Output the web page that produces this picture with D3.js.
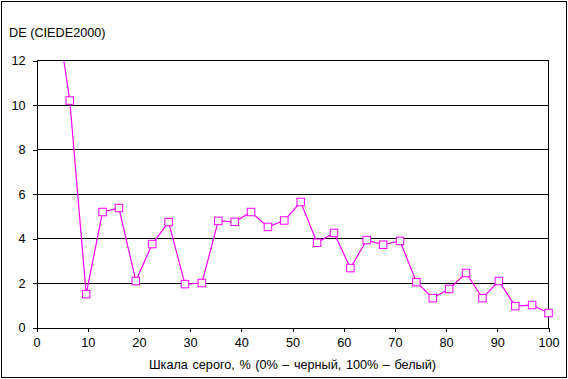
<!DOCTYPE html>
<html>
<head>
<meta charset="utf-8">
<script src="https://cdn.jsdelivr.net/npm/d3@7"></script>
<style>
  html, body { margin: 0; padding: 0; background: #fff; }
  svg text { font-family: "Liberation Sans", Arial, sans-serif; fill: #000; }
</style>
</head>
<body>
<svg id="chart" width="568" height="379"></svg>
<script>
const grayPercent = [0, 3.2, 6.5, 9.7, 12.9, 16.1, 19.4, 22.6, 25.8, 29.0, 32.3, 35.5, 38.7, 41.9, 45.2, 48.4,
  51.6, 54.8, 58.1, 61.3, 64.5, 67.7, 71.0, 74.2, 77.4, 80.6, 83.9, 87.1, 90.3, 93.5, 96.8, 100];
const deValues = [18, 15.3, 10.2, 1.5, 5.19, 5.37, 2.09, 3.75, 4.74, 1.95, 2.0, 4.79, 4.75, 5.19, 4.52, 4.81,
  5.64, 3.81, 4.25, 2.67, 3.93, 3.72, 3.89, 2.04, 1.32, 1.73, 2.45, 1.32, 2.09, 0.96, 1.01, 0.65];
const xTicks = [0, 10, 20, 30, 40, 50, 60, 70, 80, 90, 100];
const yTicks = [0, 2, 4, 6, 8, 10, 12];
const yTitle = "DE (CIEDE2000)";
const xTitle = "Шкала серого, % (0% – черный, 100% – белый)";

const data = grayPercent.map((p, i) => ({ x: p, y: deValues[i] }));

const svg = d3.select("#chart");
const pL = 36.5, pR = 548.5, pT = 60.5, pB = 327.5;
const x = d3.scaleLinear().domain([0, 100]).range([pL, pR]);
const y = d3.scaleLinear().domain([0, 12]).range([pB, pT]);
const FS = "12.7px";

// outer border
svg.append("rect").attr("x", 1.5).attr("y", 1.5).attr("width", 565).attr("height", 376)
  .attr("fill", "none").attr("stroke", "#000").attr("stroke-width", 1);

// gridlines
svg.append("g").attr("shape-rendering", "crispEdges")
  .selectAll("line").data(yTicks.filter(d => d > 0)).join("line")
  .attr("x1", pL).attr("x2", pR)
  .attr("y1", d => y(d)).attr("y2", d => y(d))
  .attr("stroke", "#000").attr("stroke-width", 1);

// right border of plot
svg.append("line").attr("x1", pR).attr("x2", pR).attr("y1", pT).attr("y2", pB)
  .attr("stroke", "#000").attr("shape-rendering", "crispEdges");

// y axis
const yAxis = d3.axisLeft(y).tickValues(yTicks).tickSize(4).tickSizeOuter(0).tickPadding(7).tickFormat(d3.format("d"));
const gy = svg.append("g").attr("transform", `translate(${pL},0)`).attr("shape-rendering", "crispEdges").call(yAxis);
gy.select(".domain").attr("stroke", "#000");
gy.selectAll(".tick line").attr("stroke", "#000");
gy.selectAll(".tick text").style("font-size", FS).attr("font-family", null);

// x axis
const xAxis = d3.axisBottom(x).tickValues(xTicks).tickSize(4).tickSizeOuter(0).tickPadding(6).tickFormat(d3.format("d"));
const gx = svg.append("g").attr("transform", `translate(0,${pB})`).attr("shape-rendering", "crispEdges").call(xAxis);
gx.select(".domain").attr("stroke", "#000");
gx.selectAll(".tick line").attr("stroke", "#000");
gx.selectAll(".tick text").style("font-size", FS).attr("font-family", null);

// clip
svg.append("clipPath").attr("id", "plotclip").append("rect")
  .attr("x", pL - 6).attr("y", pT).attr("width", pR - pL + 12).attr("height", pB - pT + 6);

const plot = svg.append("g").attr("clip-path", "url(#plotclip)");
const line = d3.line().x(d => x(d.x)).y(d => y(d.y));
plot.append("path").datum(data).attr("d", line)
  .attr("fill", "none").attr("stroke", "#ff00ff").attr("stroke-width", 1.2);

const s = 7.5;
plot.selectAll("rect.m").data(data).join("rect").attr("class", "m")
  .attr("x", d => x(d.x) - s / 2).attr("y", d => y(d.y) - s / 2)
  .attr("width", s).attr("height", s)
  .attr("fill", "#fff").attr("stroke", "#ff00ff").attr("stroke-width", 1);

// titles
svg.append("text").attr("x", 9).attr("y", 37).style("font-size", FS).text(yTitle);
svg.append("text").attr("x", (pL + pR) / 2).attr("y", 368.5).attr("text-anchor", "middle")
  .style("font-size", FS).style("word-spacing", "1px").text(xTitle);
</script>
</body>
</html>
